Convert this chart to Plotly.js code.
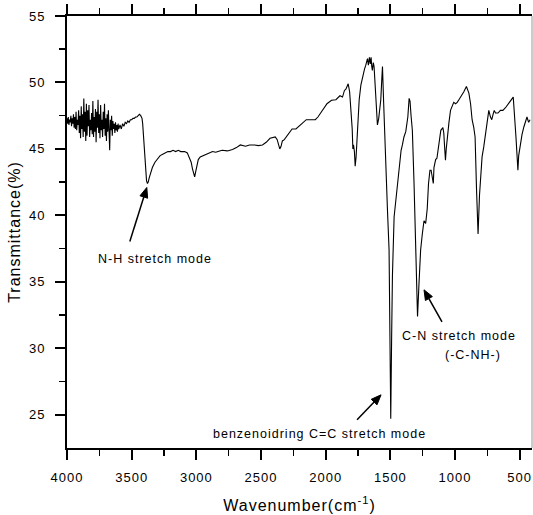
<!DOCTYPE html>
<html>
<head>
<meta charset="utf-8">
<script src="https://cdn.plot.ly/plotly-3.0.1.min.js"></script>
<style>
html,body{margin:0;padding:0;background:#fff;}
#chart{width:533px;height:515px;}
#chart text{letter-spacing:1px;}
</style>
</head>
<body>
<div id="chart"></div>
<script>
// Wavenumber (cm^-1)
const wavenumber = [
 4000,3995,3990,3985,3980,3975,3970,3965,3960,3955,3950,3945,3940,3935,3930,3925,3920,3915,3910,3905,
 3900,3895,3890,3885,3880,3875,3870,3865,3860,3855,3850,3845,3840,3835,3830,3825,3820,3815,3810,3805,
 3800,3795,3790,3785,3780,3775,3770,3765,3760,3755,3750,3745,3740,3735,3730,3725,3720,3715,3710,3705,
 3700,3695,3690,3685,3680,3675,3670,3665,3660,3655,3650,3645,3640,3635,3630,3625,3620,3615,3610,3605,
 3600,3590,3580,3570,3560,3550,3540,3530,3520,3510,3500,3490,3480,3470,3460,3450,3440,3430,3420,3415,
 3410,3405,3400,3395,3390,3385,3378,3372,3365,3355,3340,3320,3300,3280,3260,3240,3220,3200,3180,3160,
 3140,3120,3090,3070,3055,3040,3030,3020,3013,3005,2995,2985,2970,2950,2925,2900,2875,2850,2820,2800,
 2760,2720,2690,2660,2620,2589,2550,2520,2489,2460,2430,2410,2390,2375,2365,2355,2345,2335,2320,2300,
 2260,2230,2180,2150,2101,2080,2060,2026,1990,1955,1921,1890,1870,1855,1844,1835,1826,1815,1805,1795,
 1790,1785,1778,1772,1765,1755,1741,1728,1716,1700,1690,1677,1670,1662,1655,1649,1644,1639,1632,1626,
 1620,1613,1606,1600,1590,1580,1574,1566,1561,1552,1545,1535,1522,1510,1503,1497,1490,1484,1471,1459,
 1446,1430,1417,1407,1395,1381,1365,1355,1348,1340,1330,1317,1304,1290,1279,1272,1266,1253,1240,1227,
 1215,1205,1194,1185,1176,1168,1163,1156,1150,1140,1125,1110,1094,1087,1081,1074,1068,1060,1047,1035,
 1022,1010,996,983,970,950,932,912,893,880,868,855,845,834,822,811,800,791,778,765,
 752,739,726,716,706,697,687,668,649,630,610,590,572,550,529,521,514,508,495,482,
 468,456,444,431,420,408
];
// Transmittance (%)
const transmittance = [
 47.3,46.9,47.4,46.8,47.2,47.0,47.5,46.7,47.3,46.9,47.6,46.6,47.4,46.5,47.8,46.4,47.2,46.8,47.9,46.2,
 47.5,45.8,48.2,46.5,47.6,45.9,48.8,46.3,47.8,45.6,48.4,46.0,47.9,46.7,48.3,45.9,47.2,46.4,47.7,46.1,
 48.6,45.9,47.4,46.3,48.0,45.5,47.8,46.6,48.7,46.2,47.6,45.8,48.3,46.4,47.2,45.9,47.8,46.5,48.4,46.0,
 47.3,45.6,47.6,46.3,47.9,46.1,44.9,47.2,46.4,47.5,46.0,47.1,46.5,46.9,46.2,47.0,46.4,46.8,46.3,46.9,
 46.5,46.8,46.5,46.9,46.7,47.0,46.9,47.1,47.0,47.2,47.2,47.3,47.3,47.4,47.4,47.5,47.6,47.5,47.3,46.9,
 46.2,45.2,44.2,43.5,42.9,42.6,42.4,42.5,42.8,43.2,43.6,44.0,44.3,44.5,44.6,44.7,44.8,44.8,44.9,44.8,
 44.9,44.8,44.8,44.7,44.4,44.0,43.5,43.0,42.9,43.3,43.9,44.2,44.4,44.5,44.6,44.7,44.8,44.75,44.85,44.9,
 44.85,44.95,45.1,45.3,45.2,45.3,45.3,45.25,45.3,45.5,45.8,45.85,45.9,45.7,45.3,45.0,45.2,45.6,45.7,46.0,
 46.5,46.5,46.9,47.2,47.2,47.2,47.4,47.9,48.4,48.66,48.7,49.0,48.9,49.4,49.5,49.7,49.9,49.3,47.9,46.5,
 45.0,45.3,44.8,43.7,44.4,46.2,48.7,49.8,50.4,51.0,51.3,51.8,51.3,51.9,51.4,51.9,51.2,50.9,51.5,51.2,
 50.2,48.7,47.4,46.8,47.3,48.4,48.7,50.3,51.2,48.5,46.3,43.6,40.3,37.4,32.0,24.7,31.0,35.5,39.9,41.1,
 42.0,43.8,44.9,45.3,45.9,46.3,47.4,48.8,48.6,47.5,46.4,42.4,38.0,32.4,34.8,36.1,37.4,38.6,39.6,
 39.4,40.5,42.4,43.4,43.4,42.8,42.4,43.6,44.15,44.2,44.3,45.3,46.4,46.6,46.2,45.2,44.15,45.0,46.0,47.0,
 47.9,48.3,48.5,48.4,48.5,48.7,49.0,49.3,49.7,49.2,48.4,47.2,46.6,45.9,42.0,38.6,41.5,43.4,44.4,45.15,
 46.2,47.2,47.9,47.4,47.2,47.6,47.9,47.7,47.7,47.9,47.9,48.1,48.4,48.6,48.9,45.9,44.6,43.4,44.5,45.4,
 46.1,46.65,47.0,47.4,47.0,47.2
];
// Axis ticks
const xTickVals = [4000,3500,3000,2500,2000,1500,1000,500];
const xMinorVals = [3750,3250,2750,2250,1750,1250,750];
const yTickVals = [25,30,35,40,45,50,55];
const yMinorVals = [27.5,32.5,37.5,42.5,47.5,52.5];
// Annotation texts
const labelNH = "N-H stretch mode";
const labelCN = "C-N stretch mode";
const labelCN2 = "(-C-NH-)";
const labelCC = "benzenoidring C=C stretch mode";

const font = "Liberation Sans, Arial, sans-serif";

const trace = {
  x: wavenumber.slice(0, transmittance.length),
  y: transmittance,
  type: "scatter",
  mode: "lines",
  line: {color: "#000", width: 1.1},
  hoverinfo: "skip"
};

// Arrow drawn as pixel-sized shapes anchored at the arrow tip (tail offset in screen px: right, down)
function arrowShapes(tipX, tipY, tailDx, tailDy) {
  const tx = tailDx, ty = -tailDy;              // pixel-up coordinates
  const len = Math.hypot(tx, ty);
  const ux = tx / len, uy = ty / len;
  const headLen = 10, halfW = 4;
  const bx = ux * headLen, by = uy * headLen;
  const px = -uy, py = ux;
  const c1x = bx + px * halfW, c1y = by + py * halfW;
  const c2x = bx - px * halfW, c2y = by - py * halfW;
  const base = {type: "path", xref: "x", yref: "y", xsizemode: "pixel", ysizemode: "pixel", xanchor: tipX, yanchor: tipY};
  return [
    Object.assign({}, base, {path: `M ${tx} ${ty} L ${bx} ${by}`, line: {color: "#000", width: 1.5}}),
    Object.assign({}, base, {path: `M 0 0 L ${c1x} ${c1y} L ${c2x} ${c2y} Z`, fillcolor: "#000", line: {color: "#000", width: 1}})
  ];
}

const textStyle = {showarrow: false, xref: "x", yref: "y", font: {family: font, size: 12.5, color: "#000"}};

const layout = {
  width: 533, height: 515,
  margin: {l: 67, r: 1, t: 16, b: 67},
  paper_bgcolor: "#fff", plot_bgcolor: "#fff",
  showlegend: false,
  font: {family: font, color: "#000"},
  xaxis: {
    range: [4000, 405],
    tickvals: xTickVals,
    ticktext: xTickVals.map(String),
    ticks: "outside", ticklen: 10, tickwidth: 2, tickcolor: "#000",
    ticklabelstandoff: 6,
    minor: {tickvals: xMinorVals, ticks: "outside", ticklen: 6, tickwidth: 1.5, tickcolor: "#000"},
    showline: true, linecolor: "#000", linewidth: 2, mirror: "all",
    showgrid: false, zeroline: false,
    tickfont: {family: font, size: 13, color: "#000"},
    title: {text: "Wavenumber(cm<sup>-1</sup>)", font: {family: font, size: 16, color: "#000"}, standoff: 16}
  },
  yaxis: {
    range: [22.5, 55],
    tickvals: yTickVals,
    ticks: "outside", ticklen: 10, tickwidth: 2, tickcolor: "#000",
    ticklabelstandoff: 7,
    minor: {tickvals: yMinorVals, ticks: "outside", ticklen: 6, tickwidth: 1.5, tickcolor: "#000"},
    showline: true, linecolor: "#000", linewidth: 2, mirror: false,
    showgrid: false, zeroline: false,
    tickfont: {family: font, size: 13, color: "#000"},
    title: {text: "Transmittance(%)", font: {family: font, size: 16, color: "#000"}, standoff: 6}
  },
  shapes: [
    {type: "line", xref: "paper", yref: "paper", x0: 1, x1: 1, y0: 0, y1: 1, line: {color: "#999", width: 1}}
  ].concat(
    arrowShapes(3383, 42.1, -17, 54),
    arrowShapes(1240, 34.4, 18, 32),
    arrowShapes(1572, 26.5, -24, 25)
  ),
  annotations: [
    Object.assign({}, textStyle, {x: 3322, y: 36.7, text: labelNH}),
    Object.assign({}, textStyle, {x: 970, y: 30.9, text: labelCN}),
    Object.assign({}, textStyle, {x: 862, y: 29.5, text: labelCN2}),
    Object.assign({}, textStyle, {x: 2050, y: 23.55, text: labelCC})
  ]
};

Plotly.newPlot("chart", [trace], layout, {staticPlot: true, displayModeBar: false});
</script>
</body>
</html>
